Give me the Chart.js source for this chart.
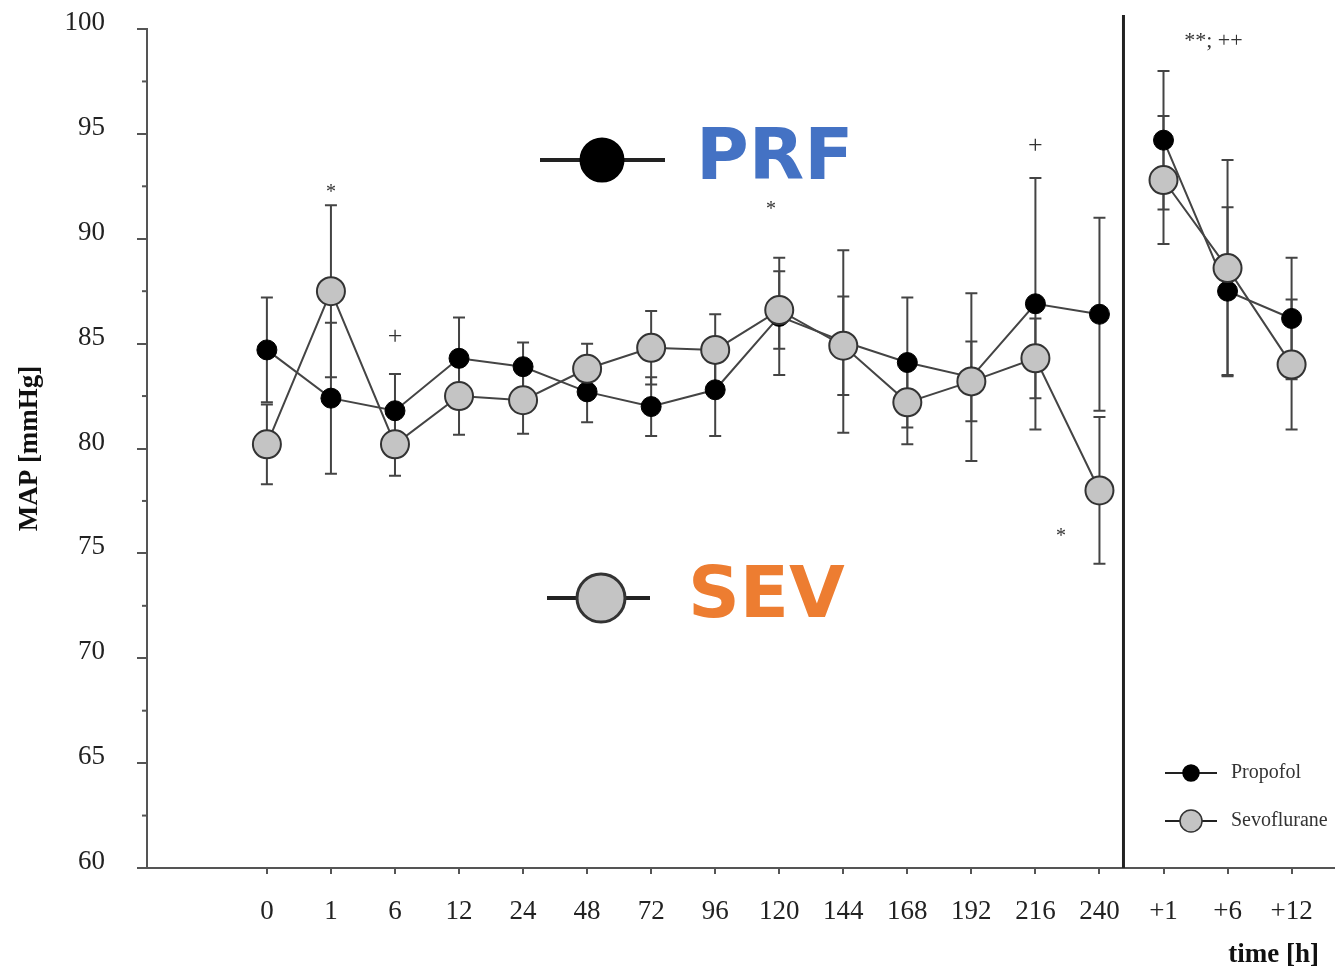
<!DOCTYPE html>
<html>
<head>
<meta charset="utf-8">
<script src="https://cdn.jsdelivr.net/npm/chart.js@4.4.0/dist/chart.umd.min.js"></script>
<style>
  body { margin: 0; background: #fff; }
  #wrap { width: 1335px; height: 967px; position: relative; }
</style>
</head>
<body>
<div id="wrap"><canvas id="map-chart"></canvas></div>
<script>
// time points, before and after the separator
const timeLabels = ['0', '1', '6', '12', '24', '48', '72', '96', '120', '144', '168', '192', '216', '240', '+1', '+6', '+12'];

// mean arterial pressure, mean and sd
const prfMean = [84.7, 82.4, 81.8, 84.3, 83.9, 82.7, 82.0, 82.8, 86.3, 85.1, 84.1, 83.4, 86.9, 86.4, 94.7, 87.5, 86.2];
const prfSd   = [2.5, 3.6, 1.75, 1.95, 1.15, 1.45, 1.4, 2.2, 2.8, 4.35, 3.1, 4.0, 6.0, 4.6, 3.3, 4.0, 2.9];
const sevMean = [80.2, 87.5, 80.2, 82.5, 82.3, 83.8, 84.8, 84.7, 86.6, 84.9, 82.2, 83.2, 84.3, 78.0, 92.8, 88.6, 84.0];
const sevSd   = [1.9, 4.1, 1.5, 1.85, 1.6, 1.2, 1.75, 1.7, 1.85, 2.35, 2.0, 1.9, 1.9, 3.5, 3.05, 5.15, 3.1];

const yMin = 60, yMax = 100, yStep = 5;
const separatorAt = 13.375;

// significance marks: position on the category index and MAP value
const marks = [
    { at: 1, y: 92.2, text: '*', size: 20 },
    { at: 2, y: 85.3, text: '+', size: 26 },
    { at: 7.87, y: 91.4, text: '*', size: 20 },
    { at: 12, y: 94.4, text: '+', size: 26 },
    { at: 12.4, y: 75.8, text: '*', size: 20 },
    { at: 14.78, y: 99.4, text: '**; ++', size: 22 }
];

const serif = '"Liberation Serif", "DejaVu Serif", serif';

function points(means) {
    return means.map((v, i) => ({ x: i, y: v }));
}

// keep chart.js from reserving extra room for end labels
function noPad(s) {
    s.paddingTop = 0; s.paddingBottom = 0; s.paddingLeft = 0; s.paddingRight = 0;
}

const errs = { 'Propofol': prfSd, 'Sevoflurane': sevSd };

const extras = {
    id: 'extras',
    beforeDatasetsDraw(chart) {
        const ctx = chart.ctx, xs = chart.scales.x, ys = chart.scales.y;
        ctx.save();
        ctx.strokeStyle = '#444';
        ctx.lineWidth = 2;
        chart.data.datasets.forEach(ds => {
            const sd = errs[ds.label];
            ds.data.forEach((p, i) => {
                const x = xs.getPixelForValue(p.x);
                const top = ys.getPixelForValue(p.y + sd[i]);
                const bot = ys.getPixelForValue(p.y - sd[i]);
                ctx.beginPath();
                ctx.moveTo(x, top); ctx.lineTo(x, bot);
                ctx.moveTo(x - 6, top); ctx.lineTo(x + 6, top);
                ctx.moveTo(x - 6, bot); ctx.lineTo(x + 6, bot);
                ctx.stroke();
            });
        });
        ctx.restore();
    },
    afterDraw(chart) {
        const ctx = chart.ctx, xs = chart.scales.x, ys = chart.scales.y;
        const area = chart.chartArea;
        ctx.save();

        // x axis line runs on to the edge
        ctx.strokeStyle = '#555';
        ctx.lineWidth = 2;
        ctx.beginPath(); ctx.moveTo(area.right, area.bottom); ctx.lineTo(chart.width, area.bottom); ctx.stroke();

        // minor y ticks
        for (let v = yMin + yStep / 2; v < yMax; v += yStep) {
            const y = ys.getPixelForValue(v);
            ctx.beginPath(); ctx.moveTo(area.left - 5, y); ctx.lineTo(area.left, y); ctx.stroke();
        }

        // separator between study days and post-extubation hours
        const sx = xs.getPixelForValue(separatorAt);
        ctx.strokeStyle = '#222';
        ctx.lineWidth = 3;
        ctx.beginPath(); ctx.moveTo(sx, area.top - 14); ctx.lineTo(sx, area.bottom); ctx.stroke();

        // significance marks
        ctx.fillStyle = '#333';
        ctx.textAlign = 'center';
        ctx.textBaseline = 'middle';
        marks.forEach(m => {
            ctx.font = m.size + 'px ' + serif;
            ctx.fillText(m.text, xs.getPixelForValue(m.at), ys.getPixelForValue(m.y));
        });

        // small legend, bottom right
        const ds = chart.data.datasets;
        const legendRows = [ds[1], ds[0]];
        legendRows.forEach((d, k) => {
            const y = 773 + k * 48;
            ctx.strokeStyle = '#222';
            ctx.lineWidth = 2;
            ctx.beginPath(); ctx.moveTo(1165, y); ctx.lineTo(1217, y); ctx.stroke();
            ctx.beginPath();
            ctx.arc(1191, y, k === 0 ? 8 : 11, 0, Math.PI * 2);
            ctx.fillStyle = d.backgroundColor;
            ctx.fill();
            ctx.strokeStyle = d.borderColor;
            ctx.lineWidth = 1.5;
            ctx.stroke();
            ctx.fillStyle = '#333';
            ctx.textAlign = 'left';
            ctx.font = '20px ' + serif;
            ctx.fillText(d.label, 1231, y);
        });

        // big group labels
        const big = [
            { y: 160, r: 21, x1: 540, x2: 665, cx: 602, fill: '#000', stroke: '#000', text: 'PRF', color: '#4472C4', tx: 696 },
            { y: 598, r: 24, x1: 547, x2: 650, cx: 601, fill: '#c4c4c4', stroke: '#333', text: 'SEV', color: '#ED7D31', tx: 688 }
        ];
        big.forEach(b => {
            ctx.strokeStyle = '#222';
            ctx.lineWidth = 4;
            ctx.beginPath(); ctx.moveTo(b.x1, b.y); ctx.lineTo(b.x2, b.y); ctx.stroke();
            ctx.beginPath();
            ctx.arc(b.cx, b.y, b.r, 0, Math.PI * 2);
            ctx.fillStyle = b.fill;
            ctx.fill();
            ctx.lineWidth = 3;
            ctx.strokeStyle = b.stroke;
            ctx.stroke();
            ctx.fillStyle = b.color;
            ctx.textAlign = 'left';
            ctx.font = 'bold 72px "DejaVu Sans", sans-serif';
            ctx.fillText(b.text, b.tx, b.y);
        });

        ctx.restore();
    }
};

// no line across the separator
const gapAfter = timeLabels.indexOf('240');

new Chart(document.getElementById('map-chart'), {
    type: 'line',
    data: {
        datasets: [
            {
                label: 'Sevoflurane',
                data: points(sevMean),
                borderColor: '#333',
                backgroundColor: '#c4c4c4',
                pointRadius: 14,
                pointBorderWidth: 2,
                borderWidth: 2,
                segment: { borderColor: ctx => ctx.p0DataIndex === gapAfter ? 'transparent' : '#444' },
                order: 0
            },
            {
                label: 'Propofol',
                data: points(prfMean),
                borderColor: '#000',
                backgroundColor: '#000',
                pointRadius: 10,
                pointBorderWidth: 1,
                borderWidth: 2,
                segment: { borderColor: ctx => ctx.p0DataIndex === gapAfter ? 'transparent' : '#444' },
                order: 1
            }
        ]
    },
    options: {
        responsive: true,
        maintainAspectRatio: false,
        animation: false,
        layout: { padding: { top: 29, left: 0, right: 0, bottom: 0 } },
        plugins: { legend: { display: false }, tooltip: { enabled: false } },
        scales: {
            x: {
                type: 'linear',
                min: -1.872,
                max: 16.428,
                afterBuildTicks: s => { s.ticks = timeLabels.map((_, i) => ({ value: i })); },
                afterFit: s => { s.height = 99; noPad(s); },
                grid: { drawOnChartArea: false, tickLength: 6, color: '#555', lineWidth: 2 },
                border: { color: '#555', width: 2 },
                ticks: {
                    callback: v => timeLabels[v],
                    font: { family: serif, size: 27 },
                    color: '#222',
                    padding: 22,
                    maxRotation: 0,
                    autoSkip: false
                },
                title: {
                    display: true,
                    text: 'time [h]',
                    align: 'end',
                    font: { family: serif, size: 27, weight: 'bold' },
                    color: '#111',
                    padding: { top: 0, bottom: -4 }
                }
            },
            y: {
                min: yMin,
                max: yMax,
                afterFit: s => { s.width = 147; noPad(s); },
                grid: { drawOnChartArea: false, tickLength: 10, color: '#555', lineWidth: 2 },
                border: { color: '#555', width: 2 },
                ticks: {
                    stepSize: yStep,
                    font: { family: serif, size: 27 },
                    color: '#222',
                    padding: 32,
                    labelOffset: -6
                },
                title: {
                    display: true,
                    text: 'MAP [mmHg]',
                    font: { family: serif, size: 27, weight: 'bold' },
                    color: '#111',
                    padding: { top: 14, bottom: 0 }
                }
            }
        }
    },
    plugins: [extras]
});
</script>
</body>
</html>
